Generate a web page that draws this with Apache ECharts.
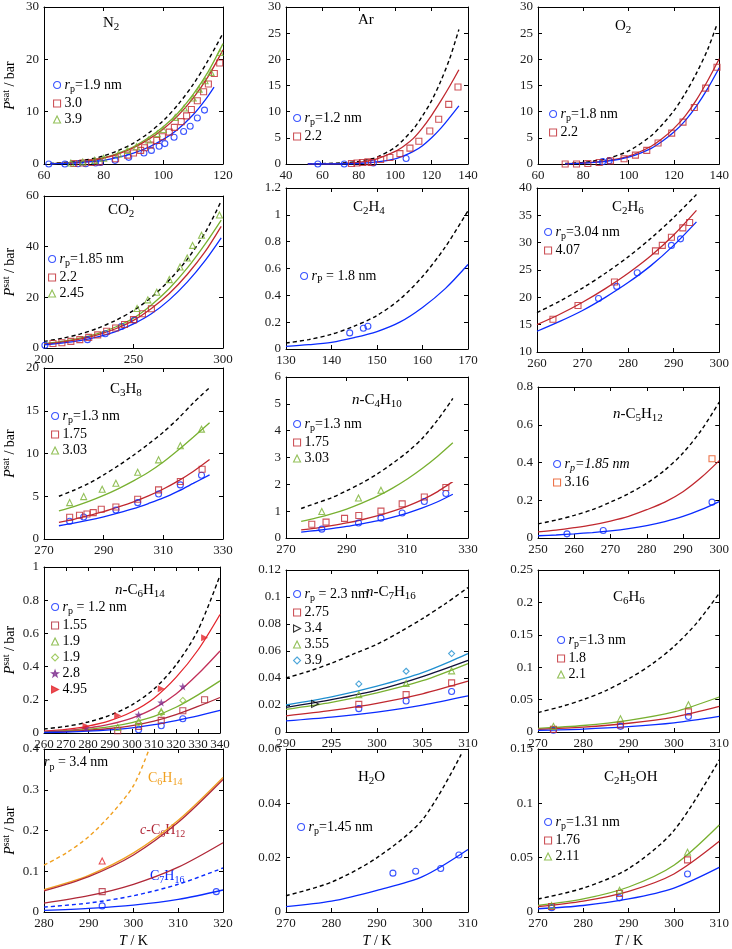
<!DOCTYPE html>
<html><head><meta charset="utf-8">
<script src="https://cdn.jsdelivr.net/npm/echarts@6/dist/echarts.min.js"></script>
<style>html,body{margin:0;padding:0;background:#fff}#c{width:732px;height:949px}</style>
</head><body><div id="c"></div>
<script>
// ---------------- DATA ----------------
// N2
const N2_bulk = [[62,0.1],[70,0.45],[77,1.1],[80,1.55],[85,2.6],[90,4.0],[95,5.9],[100,8.3],[105,11.4],[110,15.2],[115,19.8],[120,25.0]];
const N2_l39 = [[62,0.05],[70,0.3],[77,0.85],[80,1.2],[85,2.1],[90,3.3],[95,5.0],[100,7.1],[105,9.8],[110,13.3],[115,17.6],[120,23.0]];
const N2_l30 = [[62,0.04],[70,0.25],[77,0.75],[80,1.1],[85,1.95],[90,3.1],[95,4.7],[100,6.7],[105,9.3],[110,12.6],[115,16.7],[120,21.8]];
const N2_l19 = [[62,0.02],[70,0.15],[77,0.5],[80,0.7],[85,1.3],[90,2.1],[95,3.2],[100,4.7],[105,6.7],[110,9.4],[114,12.2],[117,14.7]];
const N2_p19 = [[61.6,0],[67,0],[71.4,0.06],[74,0.06],[77.3,0.2],[78.9,0.3],[83.8,0.7],[88.4,1.27],[93.5,2.1],[96,2.6],[98.6,3.4],[100.5,3.9],[103.6,5.1],[106.8,6.2],[109,7.2],[111.4,8.8],[113.8,10.3]];
const N2_p30 = [[70,0.1],[73,0.2],[76,0.3],[78.5,0.4],[84,1.0],[88,1.7],[90,2.1],[92.4,2.6],[93.7,3.1],[95.6,3.6],[97.8,4.5],[99.7,5.2],[102,6.1],[103.7,7.0],[106,8.1],[107.8,9.2],[109.4,10.4],[111.4,12.1],[113.5,13.8],[115.1,15.3],[117.1,17.3],[118.9,19.3]];
const N2_p39 = [[69,0.2],[73,0.4],[77,0.7],[80,1.1],[85,1.9],[88,2.6],[91,3.3],[95,4.6],[98,5.8],[100,6.6],[104,8.9],[107,10.7],[110,12.6],[112,14.3],[114,15.9],[116,17.5],[119,21.3]];
// Ar
const Ar_bulk = [[52,0],[70,0.2],[80,0.5],[87,1.0],[90,1.3],[100,3.2],[110,6.7],[115,9.2],[120,12.1],[125,15.8],[130,20.2],[135,25.7]];
const Ar_l22 = [[52,0],[70,0.05],[80,0.3],[90,1.0],[100,2.4],[105,3.5],[110,4.9],[115,6.9],[120,9.3],[125,12.0],[130,14.9],[135,18.0]];
const Ar_l12 = [[52,0],[80,0.1],[90,0.4],[100,1.0],[105,1.6],[110,2.4],[115,3.5],[120,5.0],[125,6.8],[130,8.9],[135,11.1]];
const Ar_p12 = [[57.5,0],[72,0],[88,0.2],[106,1.05]];
const Ar_p22 = [[76,0.1],[79,0.2],[82,0.3],[85,0.4],[87,0.3],[92,0.87],[97.1,1.24],[102.6,1.98],[108.1,3.04],[113,4.34],[119,6.3],[123.9,8.55],[129.4,11.4],[134.5,14.7]];
// O2
const O2_bulk = [[72,0.1],[80,0.3],[90,1.0],[100,2.5],[110,5.4],[115,7.6],[120,10.2],[125,13.5],[130,17.4],[135,22.0],[139,26.7]];
const O2_l22 = [[72,0.05],[80,0.2],[90,0.6],[100,1.5],[110,3.4],[115,4.9],[120,6.8],[125,9.2],[130,12.3],[135,16.0],[140,20.1]];
const O2_l18 = [[72,0.03],[80,0.15],[90,0.5],[100,1.3],[110,3.0],[115,4.4],[120,6.1],[125,8.3],[130,11.1],[135,14.5],[140,18.4]];
const O2_p18 = [[88.5,0.45],[91.4,0.6]];
const O2_p22 = [[72,0],[77,0],[82,0.1],[87,0.3],[92,0.6],[98,1.0],[103,1.7],[108,2.6],[113,4.0],[119,5.9],[124,8.0],[129,10.8],[134,14.5],[139,18.5]];
// CO2
const CO2_bulk = [[200,2.6],[210,3.8],[220,5.5],[230,7.8],[240,10.9],[250,14.8],[260,20.0],[270,26.8],[280,35.0],[290,45.5],[299,58.0]];
const CO2_l245 = [[200,1.7],[210,2.6],[220,3.9],[230,5.7],[240,8.3],[250,11.8],[260,17.0],[270,23.5],[280,31.5],[290,41.0],[299,50.5]];
const CO2_l22 = [[200,1.5],[210,2.3],[220,3.5],[230,5.2],[240,7.6],[250,10.9],[260,15.6],[270,21.5],[280,29.0],[290,38.0],[299,48.0]];
const CO2_l185 = [[200,1.2],[210,1.9],[220,2.9],[230,4.4],[240,6.5],[250,9.5],[260,13.5],[270,19.0],[280,26.0],[290,34.5],[299,43.5]];
const CO2_p185 = [[200.5,1.1],[224.3,3.3],[234.2,5.6],[243.2,8.5],[250.5,11.0]];
const CO2_p22 = [[205,1.8],[210,2.1],[215,2.6],[220,3.3],[225,4.2],[230,5.2],[235,6.6],[240,7.9],[245,9.3],[250,11.2],[255,13.5],[260,15.5]];
const CO2_p245 = [[252,15.6],[258,19.0],[263,22.0],[270,27.0],[276,32.0],[280,35.5],[283,40.5],[288,44.5],[298,52.5]];
// C2H4
const C2H4_bulk = [[130,0.045],[135,0.07],[140,0.11],[145,0.17],[150,0.25],[155,0.37],[160,0.54],[165,0.76],[170,1.03]];
const C2H4_l18 = [[130,0.02],[135,0.032],[140,0.05],[145,0.085],[150,0.13],[155,0.2],[160,0.31],[165,0.45],[170,0.63]];
const C2H4_p18 = [[144,0.12],[147,0.155],[148,0.17]];
// C2H6
const C2H6_bulk = [[260,17.2],[265,19.3],[270,21.7],[275,24.4],[280,27.4],[285,30.8],[290,34.6],[295,38.8]];
const C2H6_l407 = [[260,15.0],[265,16.9],[270,19.1],[275,21.6],[280,24.4],[285,27.6],[290,31.4],[295,35.9]];
const C2H6_l304 = [[260,13.8],[265,15.6],[270,17.6],[275,20.0],[280,22.7],[285,25.8],[290,29.5],[295,33.8]];
const C2H6_p304 = [[273.5,19.8],[277.5,22.0],[282,24.5],[289.5,29.5],[291.5,30.7]];
const C2H6_p407 = [[263.5,16.0],[269,18.5],[277,22.8],[286,28.5],[287.5,29.5],[289.5,31.0],[292,32.7],[293.5,33.7]];
// C3H8
const C3H8_bulk = [[275,5.0],[280,5.7],[285,6.5],[290,7.5],[295,8.6],[300,9.8],[305,11.1],[310,12.5],[315,14.1],[320,15.9],[325.5,17.7]];
const C3H8_l303 = [[275,3.3],[280,3.8],[285,4.4],[290,5.1],[295,5.9],[300,6.8],[305,7.8],[310,9.0],[315,10.4],[320,11.9],[325.5,13.6]];
const C3H8_l175 = [[275,1.95],[280,2.3],[285,2.75],[290,3.2],[295,3.75],[300,4.35],[305,5.05],[310,5.85],[315,6.8],[320,7.9],[325.5,9.3]];
const C3H8_l13 = [[275,1.55],[280,1.85],[285,2.2],[290,2.6],[295,3.05],[300,3.55],[305,4.15],[310,4.8],[315,5.6],[320,6.5],[325.5,7.5]];
const C3H8_p13 = [[278.6,2.07],[283.3,2.58],[294.1,3.4],[301.4,4.25],[308.4,5.27],[315.7,6.33],[322.8,7.46]];
const C3H8_p175 = [[278.6,2.54],[281.9,2.77],[284.4,2.93],[286.5,3.09],[289.2,3.48],[294.1,3.75],[301.4,4.65],[308.4,5.74],[315.7,6.72],[323,8.16]];
const C3H8_p303 = [[278.6,4.26],[283.3,4.96],[289.5,5.82],[294.1,6.52],[301.4,7.8],[308.4,9.26],[315.7,10.9],[322.8,12.85]];
// n-C4H10
const C4_bulk = [[275,1.1],[280,1.3],[285,1.5],[290,1.76],[295,2.05],[300,2.38],[305,2.77],[310,3.2],[315,3.72],[320,4.4],[325,5.2]];
const C4_l303 = [[275,0.62],[280,0.75],[285,0.9],[290,1.08],[295,1.3],[300,1.55],[305,1.85],[310,2.2],[315,2.6],[320,3.05],[325,3.55]];
const C4_l175 = [[275,0.3],[280,0.37],[285,0.46],[290,0.56],[295,0.68],[300,0.82],[305,0.99],[310,1.19],[315,1.43],[320,1.73],[325,2.1]];
const C4_l13 = [[275,0.22],[280,0.28],[285,0.35],[290,0.43],[295,0.53],[300,0.64],[305,0.77],[310,0.93],[315,1.12],[320,1.35],[325,1.63]];
const C4_p13 = [[281.8,0.33],[293.9,0.56],[301.3,0.74],[308.3,0.93],[315.6,1.36],[322.7,1.66]];
const C4_p175 = [[278.5,0.51],[283.2,0.59],[289.3,0.73],[294,0.84],[301.3,1.0],[308.3,1.27],[315.6,1.53],[322.7,1.88]];
const C4_p303 = [[281.8,0.99],[293.9,1.49],[301.3,1.78]];
// n-C5H12
const C5_bulk = [[250,0.075],[255,0.095],[260,0.12],[265,0.15],[270,0.19],[275,0.235],[280,0.29],[285,0.36],[290,0.45],[295,0.57],[300,0.72]];
const C5_l316 = [[250,0.032],[255,0.042],[260,0.055],[265,0.07],[270,0.09],[275,0.115],[280,0.15],[285,0.19],[290,0.245],[295,0.32],[300,0.41]];
const C5_l185 = [[250,0.012],[255,0.016],[260,0.022],[265,0.029],[270,0.038],[275,0.05],[280,0.066],[285,0.087],[290,0.114],[295,0.15],[300,0.193]];
const C5_p185 = [[258,0.022],[268,0.04],[298,0.19]];
const C5_p316 = [[298,0.42]];
// n-C6H14
const C6_bulk = [[260,0.024],[270,0.04],[280,0.066],[290,0.107],[300,0.17],[310,0.265],[320,0.41],[330,0.62],[340,0.95]];
const C6_l495 = [[260,0.011],[270,0.022],[280,0.042],[290,0.075],[300,0.128],[310,0.21],[320,0.335],[330,0.5],[340,0.714]];
const C6_l28 = [[260,0.008],[270,0.016],[280,0.03],[290,0.053],[300,0.09],[310,0.148],[320,0.235],[330,0.355],[340,0.494]];
const C6_l19 = [[260,0.006],[270,0.012],[280,0.022],[290,0.038],[300,0.063],[310,0.1],[320,0.155],[330,0.23],[340,0.314]];
const C6_l155 = [[260,0.005],[270,0.009],[280,0.016],[290,0.027],[300,0.044],[310,0.071],[320,0.11],[330,0.16],[340,0.214]];
const C6_l12 = [[260,0.003],[270,0.006],[280,0.011],[290,0.019],[300,0.031],[310,0.05],[320,0.075],[330,0.103],[340,0.136]];
const C6_p12 = [[303,0.02],[313.3,0.044],[323.1,0.086]];
const C6_p155 = [[293.5,0.014],[303,0.04],[313.3,0.076],[323.1,0.134],[333,0.2]];
const C6_p19a = [[293.5,0.034],[303,0.07],[313.3,0.13]];
const C6_p19b = [[303,0.06],[313.3,0.12],[323.1,0.196]];
const C6_p28 = [[279.1,0.03],[303,0.11],[313.3,0.184],[323.1,0.28]];
const C6_p495 = [[279.1,0.04],[293.5,0.106],[313.3,0.266],[333,0.574]];
// n-C7H16
const C7_bulk = [[290,0.040],[292.5,0.045],[295,0.051],[297.5,0.058],[300,0.065],[302.5,0.074],[305,0.084],[307.5,0.095],[310,0.107]];
const C7_l39 = [[290,0.020],[295,0.026],[300,0.034],[305,0.044],[310,0.058]];
const C7_l34 = [[290,0.0183],[295,0.024],[300,0.031],[305,0.041],[310,0.053]];
const C7_l355 = [[290,0.0168],[295,0.022],[300,0.029],[305,0.038],[310,0.0507]];
const C7_l275 = [[290,0.012],[295,0.016],[300,0.0212],[305,0.0283],[310,0.0376]];
const C7_l23 = [[290,0.0082],[295,0.011],[300,0.0148],[305,0.0199],[310,0.0267]];
const C7_p23 = [[298,0.0173],[303.2,0.023],[308.2,0.030]];
const C7_p275 = [[298,0.0205],[303.2,0.0277],[308.2,0.0364]];
const C7_p34 = [[293.2,0.0208]];
const C7_p355 = [[298,0.0277],[303.2,0.0359],[308.2,0.0453]];
const C7_p39 = [[298,0.0356],[303.2,0.045],[308.2,0.0581]];
// C6H6
const Bz_bulk = [[270,0.03],[275,0.039],[280,0.05],[285,0.064],[290,0.082],[295,0.104],[300,0.132],[305,0.168],[310,0.214]];
const Bz_l21 = [[270,0.0055],[280,0.010],[290,0.018],[300,0.031],[310,0.054]];
const Bz_l18 = [[270,0.004],[280,0.0075],[290,0.0135],[300,0.023],[310,0.0395]];
const Bz_l13 = [[270,0.0025],[280,0.0045],[290,0.0082],[300,0.014],[310,0.024]];
const Bz_p13 = [[273.4,0.0026],[288.2,0.0087],[303.2,0.024]];
const Bz_p18 = [[273.4,0.004],[288.2,0.011],[303.2,0.031]];
const Bz_p21 = [[273.4,0.0087],[288.2,0.0205],[303.2,0.042]];
// mixture panel (rp = 3.4 nm)
const Mx_C6H14_bulk = [[280,0.115],[285,0.145],[290,0.185],[295,0.24],[300,0.31],[303.5,0.4]];
const Mx_C6H14_pore = [[280,0.055],[290,0.09],[300,0.145],[310,0.225],[320,0.33]];
const Mx_cC6H12_bulk = [[280,0.052],[290,0.087],[300,0.14],[310,0.22],[320,0.325]];
const Mx_cC6H12_pore = [[280,0.022],[290,0.04],[300,0.068],[310,0.11],[320,0.17]];
const Mx_C7H16_bulk = [[280,0.012],[290,0.022],[300,0.04],[310,0.068],[320,0.108]];
const Mx_C7H16_pore = [[280,0.004],[290,0.009],[300,0.017],[310,0.031],[320,0.054]];
const Mx_pC6H14 = [[293,0.125]];
const Mx_pcC6H12 = [[293,0.05]];
const Mx_pC7H16 = [[293,0.015],[318.5,0.05]];
// H2O
const W_bulk = [[270,0.006],[280,0.011],[290,0.02],[300,0.034],[308.5,0.058]];
const W_l145 = [[270,0.002],[280,0.004],[290,0.008],[300,0.013],[310,0.023]];
const W_p145 = [[293.5,0.0143],[298.5,0.015],[304,0.016],[308,0.021]];
// C2H5OH
const Et_bulk = [[270,0.012],[280,0.022],[290,0.04],[300,0.075],[310,0.14]];
const Et_l211 = [[270,0.006],[280,0.012],[290,0.023],[300,0.043],[310,0.08]];
const Et_l176 = [[270,0.005],[280,0.01],[290,0.019],[300,0.035],[310,0.065]];
const Et_l131 = [[270,0.003],[280,0.006],[290,0.012],[300,0.022],[310,0.041]];
const Et_p131 = [[273,0.004],[288,0.013],[303,0.035]];
const Et_p176 = [[273,0.005],[288,0.017],[303,0.048]];
const Et_p211 = [[273,0.006],[288,0.02],[303,0.055]];

// ---------------- STYLE ----------------
const F = 'Liberation Serif';
const BLUE='#0A2BFF', RED='#C0282F', GREEN='#78B030', CYAN='#1E8FD0', PURPLE='#7E2F8E',
      ORANGE='#E8501C', GOLD='#F0A020', BRED='#E3242B', CRIMSON='#C2305A', DRED='#B02838';
const STAR='path://M0,-10L2.35,-3.24L9.51,-3.09L3.8,1.24L5.88,8.09L0,4L-5.88,8.09L-3.8,1.24L-9.51,-3.09L-2.35,-3.24Z';
const RTRI='path://M0,0L10,5L0,10Z';
const RICH = {
  n:{fontFamily:F,fontSize:14,color:'#000',lineHeight:14},
  i:{fontFamily:F,fontSize:14,fontStyle:'italic',color:'#000',lineHeight:14},
  s:{fontFamily:F,fontSize:10,color:'#000',padding:[9,0,0,0]},
  si:{fontFamily:F,fontSize:10,fontStyle:'italic',color:'#000',padding:[9,0,0,0]},
  t:{fontFamily:F,fontSize:15,color:'#000',lineHeight:16},
  ti:{fontFamily:F,fontSize:15,fontStyle:'italic',color:'#000',lineHeight:16},
  ts:{fontFamily:F,fontSize:11,color:'#000',padding:[9,0,0,0]},
  sup:{fontFamily:F,fontSize:10,color:'#000',padding:[0,0,9,0]}
};
const rp = (v)=>'{i|r}{s|p}{n|'+v+'}';

// panel layout: grid [left, top, width, height], x/y [min,max,interval]
const panels = [
 {grid:[38,7,185,157], x:[60,120,20], y:[0,30,10], yName:1, title:'{t|N}{ts|2}', tpos:[103,13], lpos:[53,78],
  lines:[[N2_bulk,'#000',1],[N2_l39,GREEN],[N2_l30,RED],[N2_l19,BLUE]],
  pts:[[N2_p19,'circle',BLUE,rp('=1.9 nm')],[N2_p30,'rect',RED,'{n|3.0}'],[N2_p39,'triangle',GREEN,'{n|3.9}']]},
 {grid:[286,7,182,157], x:[40,140,20], y:[0,30,5], title:'{t|Ar}', tpos:[358,12], lpos:[293,111],
  lines:[[Ar_bulk,'#000',1],[Ar_l22,RED],[Ar_l12,BLUE]],
  pts:[[Ar_p12,'circle',BLUE,rp('=1.2 nm')],[Ar_p22,'rect',RED,'{n|2.2}']]},
 {grid:[538,7,184,157], x:[60,140,20], y:[0,30,5], title:'{t|O}{ts|2}', tpos:[615,16], lpos:[549,107],
  lines:[[O2_bulk,'#000',1],[O2_l22,RED],[O2_l18,BLUE]],
  pts:[[O2_p18,'circle',BLUE,rp('=1.8 nm')],[O2_p22,'rect',RED,'{n|2.2}']]},
 {grid:[38,196,185,152], x:[200,300,50], y:[0,60,20], yName:1, title:'{t|CO}{ts|2}', tpos:[108,200], lpos:[48,252],
  lines:[[CO2_bulk,'#000',1],[CO2_l245,GREEN],[CO2_l22,RED],[CO2_l185,BLUE]],
  pts:[[CO2_p185,'circle',BLUE,rp('=1.85 nm')],[CO2_p22,'rect',RED,'{n|2.2}'],[CO2_p245,'triangle',GREEN,'{n|2.45}']]},
 {grid:[286,188,182,161], x:[130,170,10], y:[0,1.2,0.2], title:'{t|C}{ts|2}{t|H}{ts|4}', tpos:[353,197], lpos:[300,269],
  lines:[[C2H4_bulk,'#000',1],[C2H4_l18,BLUE]],
  pts:[[C2H4_p18,'circle',BLUE,'{i|r}{s|P}{n| = 1.8 nm}']]},
 {grid:[537,188,185,164], x:[260,300,10], y:[10,40,5], title:'{t|C}{ts|2}{t|H}{ts|6}', tpos:[612,197], lpos:[544,225],
  lines:[[C2H6_bulk,'#000',1],[C2H6_l407,RED],[C2H6_l304,BLUE]],
  pts:[[C2H6_p304,'circle',BLUE,rp('=3.04 nm')],[C2H6_p407,'rect',RED,'{n|4.07}']]},
 {grid:[38,368,185,171], x:[270,330,20], y:[0,20,5], yName:1, title:'{t|C}{ts|3}{t|H}{ts|8}', tpos:[110,379], lpos:[51,409],
  lines:[[C3H8_bulk,'#000',1],[C3H8_l303,GREEN],[C3H8_l175,RED],[C3H8_l13,BLUE]],
  pts:[[C3H8_p13,'circle',BLUE,rp('=1.3 nm')],[C3H8_p175,'rect',RED,'{n|1.75}'],[C3H8_p303,'triangle',GREEN,'{n|3.03}']]},
 {grid:[286,377,182,161], x:[270,330,20], y:[0,6,1], title:'{ti|n}{t|-C}{ts|4}{t|H}{ts|10}', tpos:[352,390], lpos:[293,417],
  lines:[[C4_bulk,'#000',1],[C4_l303,GREEN],[C4_l175,RED],[C4_l13,BLUE]],
  pts:[[C4_p13,'circle',BLUE,rp('=1.3 nm')],[C4_p175,'rect',RED,'{n|1.75}'],[C4_p303,'triangle',GREEN,'{n|3.03}']]},
 {grid:[538,387,183,151], x:[250,300,10], y:[0,0.8,0.2], title:'{ti|n}{t|-C}{ts|5}{t|H}{ts|12}', tpos:[613,404], lpos:[553,457],
  lines:[[C5_bulk,'#000',1],[C5_l316,RED],[C5_l185,BLUE]],
  pts:[[C5_p185,'circle',BLUE,'{i|r}{si|p}{i|=1.85 nm}'],[C5_p316,'rect',ORANGE,'{n|3.16}']]},
 {grid:[38,567,182,166], x:[260,340,10], y:[0,1,0.2], yName:1, title:'{ti|n}{t|-C}{ts|6}{t|H}{ts|14}', tpos:[115,580], lpos:[51,600],
  lines:[[C6_bulk,'#000',1],[C6_l495,BRED],[C6_l28,CRIMSON],[C6_l19,GREEN],[C6_l155,DRED],[C6_l12,BLUE]],
  pts:[[C6_p12,'circle',BLUE,rp(' = 1.2 nm')],[C6_p155,'rect',DRED,'{n|1.55}'],[C6_p19a,'triangle',GREEN,'{n|1.9}'],
       [C6_p19b,'diamond','#8CBF3F','{n|1.9}'],[C6_p28,STAR,PURPLE,'{n|2.8}',1],[C6_p495,RTRI,BRED,'{n|4.95}',1]]},
 {grid:[286,570,182,162], x:[290,310,5], y:[0,0.12,0.02], title:'{ti|n}{t|-C}{ts|7}{t|H}{ts|16}', tpos:[366,582], lpos:[293,587],
  lines:[[C7_bulk,'#000',1],[C7_l39,CYAN],[C7_l34,'#10103A'],[C7_l355,GREEN],[C7_l275,RED],[C7_l23,BLUE]],
  pts:[[C7_p23,'circle',BLUE,rp(' = 2.3 nm')],[C7_p275,'rect',RED,'{n|2.75}'],[C7_p34,RTRI,'#000','{n|3.4}'],
       [C7_p355,'triangle',GREEN,'{n|3.55}'],[C7_p39,'diamond',CYAN,'{n|3.9}']]},
 {grid:[538,570,183,162], x:[270,310,10], y:[0,0.25,0.05], title:'{t|C}{ts|6}{t|H}{ts|6}', tpos:[613,587], lpos:[557,633],
  lines:[[Bz_bulk,'#000',1],[Bz_l21,GREEN],[Bz_l18,RED],[Bz_l13,BLUE]],
  pts:[[Bz_p13,'circle',BLUE,rp('=1.3 nm')],[Bz_p18,'rect',RED,'{n|1.8}'],[Bz_p21,'triangle',GREEN,'{n|2.1}']]},
 {grid:[38,749,185,163], x:[280,320,10], y:[0,0.4,0.1], yName:1, xName:1, title:rp(' = 3.4 nm'), tpos:[44,753],
  lines:[[Mx_C6H14_bulk,GOLD,1],[Mx_C6H14_pore,GOLD],[Mx_cC6H12_bulk,DRED],[Mx_cC6H12_pore,DRED],[Mx_C7H16_bulk,BLUE,1],[Mx_C7H16_pore,BLUE]],
  pts:[[Mx_pC6H14,'triangle',BRED,''],[Mx_pcC6H12,'rect',DRED,''],[Mx_pC7H16,'circle',BLUE,'']]},
 {grid:[286,749,182,163], x:[270,310,10], y:[0,0.06,0.02], xName:1, title:'{t|H}{ts|2}{t|O}', tpos:[358,767], lpos:[297,820],
  lines:[[W_bulk,'#000',1],[W_l145,BLUE]],
  pts:[[W_p145,'circle',BLUE,rp('=1.45 nm')]]},
 {grid:[538,749,183,163], x:[270,310,10], y:[0,0.15,0.05], xName:1, title:'{t|C}{ts|2}{t|H}{ts|5}{t|OH}', tpos:[604,767], lpos:[544,815],
  lines:[[Et_bulk,'#000',1],[Et_l211,GREEN],[Et_l176,RED],[Et_l131,BLUE]],
  pts:[[Et_p131,'circle',BLUE,rp('=1.31 nm')],[Et_p176,'rect',RED,'{n|1.76}'],[Et_p211,'triangle',GREEN,'{n|2.11}']]}
];

// ---------------- BUILD ----------------
const option = {animation:false, backgroundColor:'#fff', grid:[], xAxis:[], yAxis:[], series:[], legend:[], title:[], graphic:[]};
const labelMap = {};
function axis(gi, pos, r, labels, extra){
  return Object.assign({type:'value', gridIndex:gi, position:pos, min:r[0], max:r[1], interval:r[2],
    axisLine:{show:true, onZero:false, lineStyle:{color:'#000', width:1}},
    axisTick:{show:true, inside:true, length:4, lineStyle:{color:'#000', width:1}},
    splitLine:{show:false},
    axisLabel:{show:labels, fontFamily:F, fontSize:13, color:'#1a1a1a', margin:5, hideOverlap:false}}, extra||{});
}
panels.forEach((p,gi)=>{
  const [l,t,w,h]=p.grid;
  option.grid.push({left:l, top:t, width:w, height:h, containLabel:false});
  const xe = p.xName ? {name:'{i|T}{n| / K}', nameLocation:'middle', nameGap:22, nameTextStyle:{rich:RICH}} : {};
  const ye = p.yName ? {name:'{i|P}{sup|sat}{n| / bar}', nameLocation:'middle', nameGap:24, nameRotate:90, nameTextStyle:{rich:RICH}} : {};
  option.xAxis.push(axis(gi,'bottom',p.x,true,xe), axis(gi,'top',p.x,false));
  option.yAxis.push(axis(gi,'left',p.y,true,ye), axis(gi,'right',p.y,false));
  const xi=2*gi, yi=2*gi;
  p.lines.forEach(([d,c,dash])=>{
    option.series.push({type:'line', xAxisIndex:xi, yAxisIndex:yi, data:d, symbol:'none', smooth:0.3,
      clip:true, silent:true, z:2, lineStyle:{color:c, width:dash?1.4:1.3, type:dash?[4,3]:'solid'}});
  });
  const names=[];
  p.pts.forEach(([d,sym,c,lab,filled],k)=>{
    const name='p'+gi+'_'+k;
    labelMap[name]=lab; if(lab) names.push(name);
    option.series.push({type:'scatter', name, xAxisIndex:xi, yAxisIndex:yi, data:d, symbol:sym,
      symbolSize: sym===STAR?8:(sym===RTRI?7:6), z:3, silent:true,
      itemStyle:{color: filled? c : 'rgba(255,255,255,0)', borderColor:c, borderWidth: filled?0:1.1}});
  });
  if(names.length){
    option.legend.push({data:names, orient:'vertical', left:p.lpos[0], top:p.lpos[1], padding:0, itemGap:2,
      itemWidth:7, itemHeight:7, selectedMode:false, formatter:(n)=>labelMap[n],
      textStyle:{fontFamily:F, fontSize:14, color:'#000', rich:RICH, padding:[0,0,0,-1]},
      itemStyle:{borderWidth:1.1}});
  }
  if(p.title){
    option.title.push({text:p.title, left:p.tpos[0], top:p.tpos[1], padding:0,
      textStyle:{fontFamily:F, fontSize:15, fontWeight:'normal', color:'#000', rich:RICH}});
  }
});
// annotations in mixture panel
const ann = (txt, x, y, color)=>({type:'text', left:x, top:y, style:{text:txt, fill:color, rich:{
  t:{fontFamily:F,fontSize:14,fill:color}, ti:{fontFamily:F,fontSize:14,fontStyle:'italic',fill:color},
  s:{fontFamily:F,fontSize:10,fill:color,padding:[8,0,0,0]}}}});
option.graphic.push(ann('{t|C}{s|6}{t|H}{s|14}',148,771,GOLD));
option.graphic.push(ann('{ti|c}{t|-C}{s|6}{t|H}{s|12}',140,823,DRED));
option.graphic.push(ann('{t|C}{s|7}{t|H}{s|16}',150,869,BLUE));

const chart = echarts.init(document.getElementById('c'), null, {renderer:'canvas'});
chart.setOption(option);
</script></body></html>
